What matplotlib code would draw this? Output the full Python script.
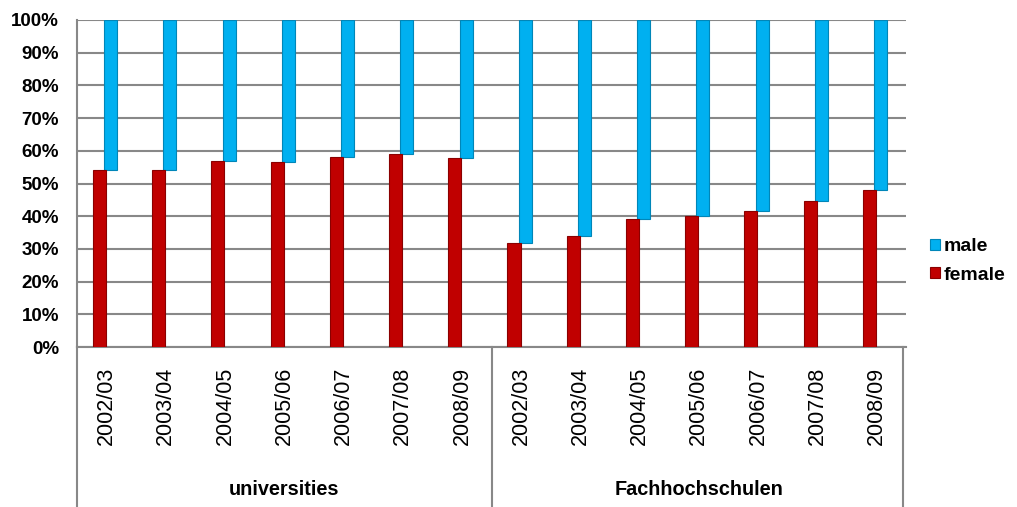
import matplotlib.pyplot as plt
import numpy as np

plt.rcParams['font.family'] = ['Liberation Sans', 'DejaVu Sans']

# data
years = ["2002/03", "2003/04", "2004/05", "2005/06", "2006/07", "2007/08", "2008/09"]
groups = ["universities", "Fachhochschulen"]
female_uni = [54.2, 54.0, 56.9, 56.6, 58.2, 59.1, 57.9]
female_fh = [31.9, 34.0, 39.0, 40.2, 41.7, 44.8, 48.0]

female = np.array(female_uni + female_fh)
male = 100 - female
labels = years + years
x = np.arange(len(labels))

fig = plt.figure(figsize=(10.17, 5.07), dpi=100)
ax = fig.add_axes([77/1017, 1-347/507, (906-77)/1017, (347-20)/507])

w = 0.22
b_m = ax.bar(x + 0.07, male, width=w, bottom=female, color='#00B0F0',
             edgecolor='#0086B8', linewidth=0.8, label='male', zorder=3)
b_f = ax.bar(x - 0.12, female, width=w, color='#C00000',
             edgecolor='#8A0000', linewidth=0.8, label='female', zorder=3)

ax.set_xlim(-0.5, len(labels) - 0.5)
ax.set_ylim(0, 100)
ax.set_yticks(range(0, 101, 10))
ax.set_yticklabels(["{}%".format(v) for v in range(0, 101, 10)],
                   fontsize=13.5, fontweight='bold')
ax.set_xticks(x)
ax.set_xticklabels(labels, rotation=90, fontsize=15.5)
ax.tick_params(axis='y', length=0, pad=13)
ax.tick_params(axis='x', length=0, pad=14)

## grid and spines
ax.grid(axis='y', color='#888888', linewidth=1.5)
ax.set_axisbelow(True)
for s in ['top', 'right']:
    ax.spines[s].set_visible(False)
ax.spines['left'].set_color('#888888')
ax.spines['left'].set_linewidth(1.5)
ax.spines['bottom'].set_color('#888888')
ax.spines['bottom'].set_linewidth(1.5)

## group separators and labels
tr = ax.get_xaxis_transform()
for xs in [-0.5, 6.5, 13.45]:
    ax.plot([xs, xs], [0, -0.49], transform=tr, color='#888888',
            linewidth=1.5, clip_on=False)
ax.text(3, -0.437, groups[0], transform=tr, ha='center', va='center',
        fontsize=14.3, fontweight='bold')
ax.text(10, -0.437, groups[1], transform=tr, ha='center', va='center',
        fontsize=14.3, fontweight='bold')

## legend
fig.legend(handles=[b_m, b_f], loc='center left',
           bbox_to_anchor=(930/1017, 1-261/507), frameon=False,
           prop={'size': 14, 'weight': 'bold'}, handlelength=0.5,
           handleheight=0.5, handletextpad=0.2, labelspacing=0.6,
           borderpad=0, borderaxespad=0)

plt.savefig("out.png", dpi=100)
